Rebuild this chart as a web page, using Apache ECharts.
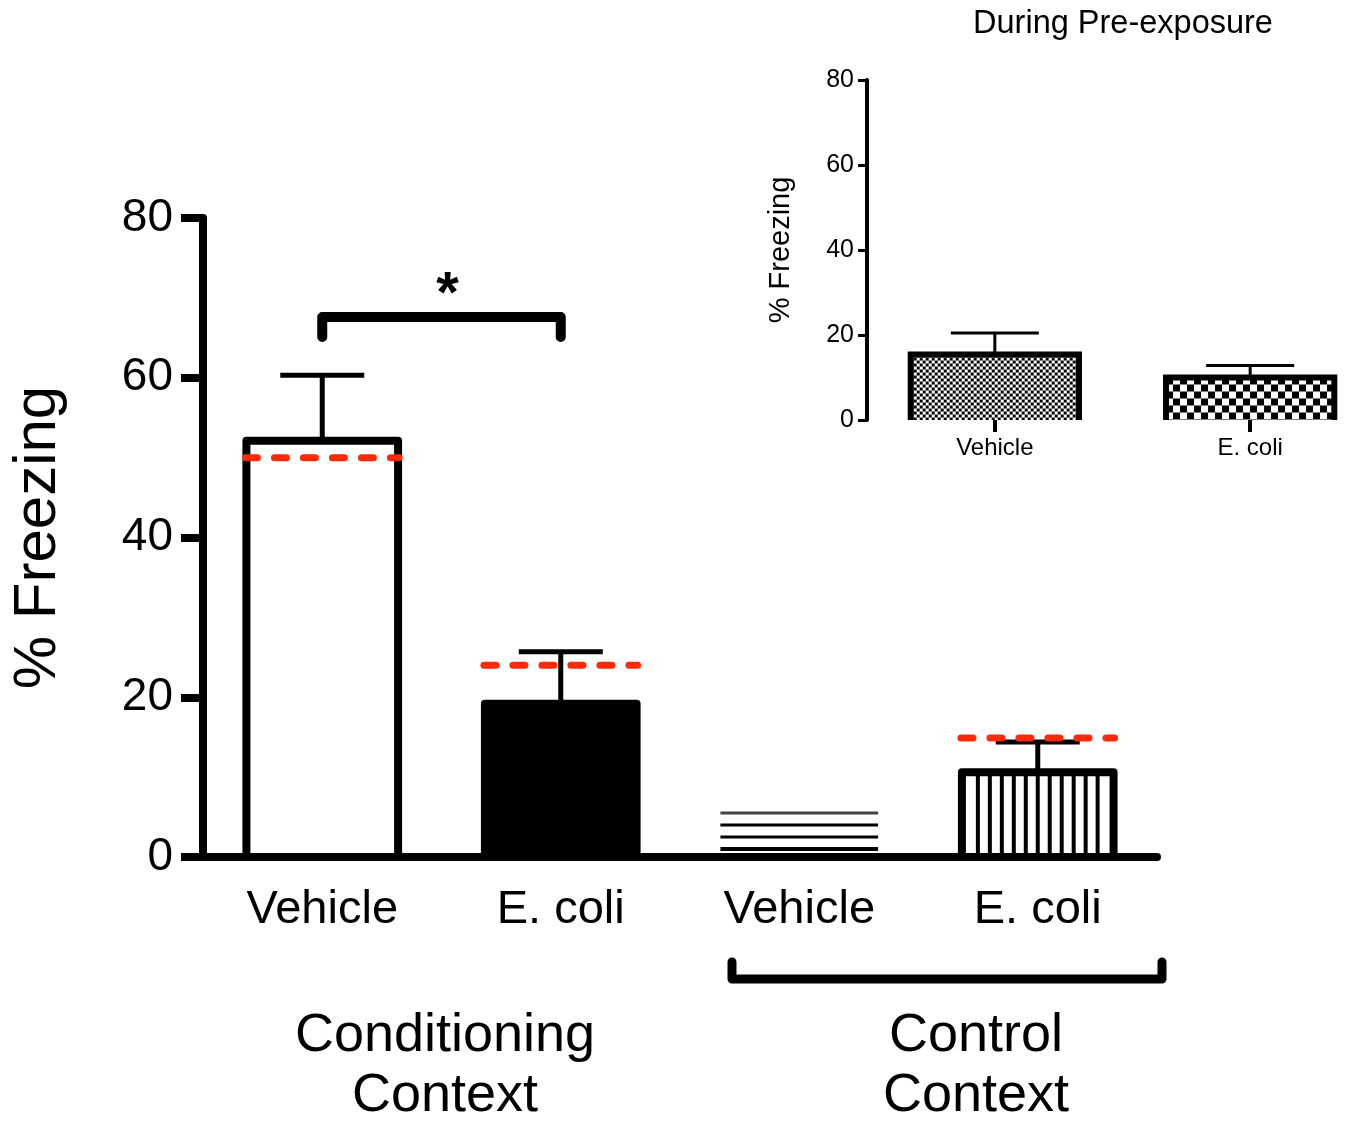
<!DOCTYPE html>
<html>
<head>
<meta charset="utf-8">
<script src="https://cdn.jsdelivr.net/npm/echarts@6/dist/echarts.min.js"></script>
<style>
html,body{margin:0;padding:0;background:#fff;}
#chart{width:1350px;height:1121px;}
</style>
</head>
<body>
<div id="chart"></div>
<script>
// ---------- DATA ----------
const mainCategories = ['Vehicle', 'E. coli', 'Vehicle', 'E. coli'];
const mainMeans = [52.1, 19.2, 5.5, 10.6];
const mainErrorTop = [60.3, 25.7, null, 14.4];
const mainRedLine = [50.0, 24.0, null, 14.9];
const mainFill = ['hollow', 'solid', 'hlines', 'vstripes'];
const yTicks = [0, 20, 40, 60, 80];

const insetCategories = ['Vehicle', 'E. coli'];
const insetMeans = [15.4, 10.0];
const insetErrorTop = [20.5, 12.8];
const insetChecker = [3, 7];

const sigBracket = { from: 0, to: 1, level: 67.6, foot: 65.1, star: 71.5 };

// ---------- RENDERERS ----------
const FONT = 'Liberation Sans, Arial, Helvetica, sans-serif';
const RED = '#ff2a0a';

function renderMain(params, api) {
  const idx = api.value(0);
  const val = api.value(1);
  const err = api.value(2);
  const red = api.value(3);
  const fill = mainFill[idx];
  const base = api.coord([idx, 0]);
  const top = api.coord([idx, val]);
  const band = api.size([1, 0])[0];
  const w = band * 0.636;
  const x0 = base[0] - w / 2, x1 = base[0] + w / 2;
  const h = base[1] - top[1];
  const ch = [];
  if (fill === 'hollow' || fill === 'solid' || fill === 'vstripes') {
    ch.push({ type: 'rect', shape: { x: x0, y: top[1], width: w, height: h },
      style: { fill: fill === 'solid' ? '#000' : '#fff', stroke: '#000', lineWidth: 8, lineJoin: 'round' } });
  }
  if (fill === 'vstripes') {
    const ix0 = x0 + 4, ix1 = x1 - 4;
    const n = 12, step = (ix1 - ix0) / n;
    for (let k = 1; k < n; k++) {
      const xx = ix0 + k * step;
      ch.push({ type: 'line', shape: { x1: xx, y1: top[1], x2: xx, y2: base[1] },
        style: { stroke: '#000', lineWidth: 4 } });
    }
  }
  if (fill === 'hlines') {
    const step = (h - 8) / 3;
    for (let k = 0; k < 4; k++) {
      const yy = top[1] + k * step;
      ch.push({ type: 'line', shape: { x1: x0 - 3, y1: yy, x2: x1 + 3, y2: yy },
        style: { stroke: k === 0 ? '#444' : '#000', lineWidth: k === 3 ? 4 : 3 } });
    }
  }
  if (!isNaN(err)) {
    const e = api.coord([idx, err]);
    ch.push({ type: 'line', shape: { x1: base[0], y1: top[1], x2: base[0], y2: e[1] },
      style: { stroke: '#000', lineWidth: 5 } });
    ch.push({ type: 'line', shape: { x1: base[0] - 42, y1: e[1], x2: base[0] + 42, y2: e[1] },
      style: { stroke: '#000', lineWidth: 5 } });
  }
  if (!isNaN(red)) {
    const r = api.coord([idx, red]);
    ch.push({ type: 'line', shape: { x1: x0 - 1, y1: r[1], x2: x1 + 1, y2: r[1] },
      style: { stroke: RED, lineWidth: 7, lineCap: 'round', lineDash: [12, 17] } });
  }
  return { type: 'group', children: ch };
}

function renderInset(params, api) {
  const idx = api.value(0);
  const val = api.value(1);
  const err = api.value(2);
  const cell = insetChecker[params.dataIndex];
  const base = api.coord([idx, 0]);
  const top = api.coord([idx, val]);
  const band = api.size([1, 0])[0];
  const w = band * 1.318;
  const x0 = base[0] - w / 2, x1 = base[0] + w / 2;
  const ch = [];
  ch.push({ type: 'rect', shape: { x: x0, y: top[1], width: w, height: base[1] - top[1] }, style: { fill: '#fff' } });
  for (let r = 0; top[1] + r * cell < base[1]; r++) {
    for (let c = 0; x0 + c * cell < x1; c++) {
      if ((r + c) % 2 === 0) {
        const cx = x0 + c * cell, cy = top[1] + r * cell;
        ch.push({ type: 'rect', shape: { x: cx, y: cy, width: Math.min(cell, x1 - cx), height: Math.min(cell, base[1] - cy) },
          style: { fill: '#000' } });
      }
    }
  }
  ch.push({ type: 'polyline', shape: { points: [[x0, base[1]], [x0, top[1]], [x1, top[1]], [x1, base[1]]] },
    style: { stroke: '#000', lineWidth: 6, fill: 'none' } });
  const e = api.coord([idx, err]);
  ch.push({ type: 'line', shape: { x1: base[0], y1: top[1], x2: base[0], y2: e[1] }, style: { stroke: '#000', lineWidth: 3 } });
  ch.push({ type: 'line', shape: { x1: base[0] - 44, y1: e[1], x2: base[0] + 44, y2: e[1] }, style: { stroke: '#000', lineWidth: 3 } });
  return { type: 'group', children: ch };
}

function renderSig(params, api) {
  const a = api.coord([sigBracket.from, sigBracket.level]);
  const b = api.coord([sigBracket.to, sigBracket.level]);
  const fa = api.coord([sigBracket.from, sigBracket.foot]);
  const s = api.coord([sigBracket.from, sigBracket.star]);
  const mid = (a[0] + b[0]) / 2;
  return { type: 'group', children: [
    { type: 'polyline', shape: { points: [[fa[0], fa[1]], [a[0], a[1]], [b[0], b[1]], [b[0], fa[1]]] },
      style: { stroke: '#000', lineWidth: 10, lineCap: 'round', lineJoin: 'round', fill: 'none' } },
    { type: 'text', x: mid + 6, y: s[1] + 10, style: { text: '*', fontSize: 58, fontWeight: 'bold', fontFamily: FONT,
      textAlign: 'center', textVerticalAlign: 'middle', fill: '#000' } }
  ] };
}

// ---------- CHART ----------
const chart = echarts.init(document.getElementById('chart'), null, { renderer: 'canvas' });
const mainData = mainCategories.map((c, i) => [i, mainMeans[i], mainErrorTop[i] == null ? NaN : mainErrorTop[i], mainRedLine[i] == null ? NaN : mainRedLine[i]]);
// inset axis uses a blank spacer slot between the two groups
const insetAxisData = [insetCategories[0], '', insetCategories[1]];
const insetData = insetCategories.map((c, i) => [i * 2, insetMeans[i], insetErrorTop[i]]);

chart.setOption({
  animation: false,
  backgroundColor: '#fff',
  grid: [
    { left: 200, top: 218, width: 957, height: 639 },
    { left: 931, top: 80, width: 383, height: 340 }
  ],
  xAxis: [
    { type: 'category', gridIndex: 0, data: mainCategories,
      axisLine: { lineStyle: { color: '#000', width: 8 } },
      axisTick: { alignWithLabel: true, length: 22, lineStyle: { color: '#000', width: 8 } },
      axisLabel: { color: '#000', fontSize: 47, fontFamily: FONT, margin: 30 } },
    { type: 'category', gridIndex: 1, data: insetAxisData,
      axisLine: { show: false },
      axisTick: { show: true, alignWithLabel: true, interval: (i) => i !== 1, length: 12, lineStyle: { color: '#000', width: 4 } },
      axisLabel: { color: '#000', fontSize: 24, fontFamily: FONT, margin: 16, interval: 0 } }
  ],
  yAxis: [
    { type: 'value', gridIndex: 0, min: 0, max: 80, interval: 20,
      name: '% Freezing', nameLocation: 'middle', nameGap: 135,
      nameTextStyle: { color: '#000', fontSize: 60, fontFamily: FONT },
      axisLine: { show: true, lineStyle: { color: '#000', width: 8 } },
      axisTick: { show: true, length: 22, lineStyle: { color: '#000', width: 8 } },
      axisLabel: { color: '#000', fontSize: 46, fontFamily: FONT, margin: 30 },
      splitLine: { show: false } },
    { type: 'value', gridIndex: 1, min: 0, max: 80, interval: 20, offset: 64,
      name: '% Freezing', nameLocation: 'middle', nameGap: 72,
      nameTextStyle: { color: '#000', fontSize: 29, fontFamily: FONT },
      axisLine: { show: true, lineStyle: { color: '#000', width: 4 } },
      axisTick: { show: true, length: 9, lineStyle: { color: '#000', width: 3 } },
      axisLabel: { color: '#000', fontSize: 25, fontFamily: FONT, margin: 13 },
      splitLine: { show: false } }
  ],
  series: [
    { type: 'custom', xAxisIndex: 0, yAxisIndex: 0, renderItem: renderMain, data: mainData, clip: false, z: 3 },
    { type: 'custom', xAxisIndex: 0, yAxisIndex: 0, renderItem: renderSig, data: [[0, 0]], clip: false, z: 3 },
    { type: 'custom', xAxisIndex: 1, yAxisIndex: 1, renderItem: renderInset, data: insetData, clip: false, z: 3 }
  ],
  graphic: [
    { type: 'text', x: 1123, y: 24, style: { text: 'During Pre-exposure', fontSize: 32.5, fontFamily: FONT, fill: '#000',
      textAlign: 'center', textVerticalAlign: 'middle' } },
    { type: 'text', x: 445, y: 1066, style: { text: 'Conditioning\nContext', fontSize: 54, lineHeight: 60, fontFamily: FONT, fill: '#000',
      textAlign: 'center', textVerticalAlign: 'middle' } },
    { type: 'text', x: 976, y: 1066, style: { text: 'Control\nContext', fontSize: 54, lineHeight: 60, fontFamily: FONT, fill: '#000',
      textAlign: 'center', textVerticalAlign: 'middle' } },
    { type: 'polyline', shape: { points: [[732, 962], [732, 979], [1162, 979], [1162, 962]] },
      style: { stroke: '#000', lineWidth: 9, lineCap: 'round', lineJoin: 'round', fill: 'none' } }
  ]
});
</script>
</body>
</html>
